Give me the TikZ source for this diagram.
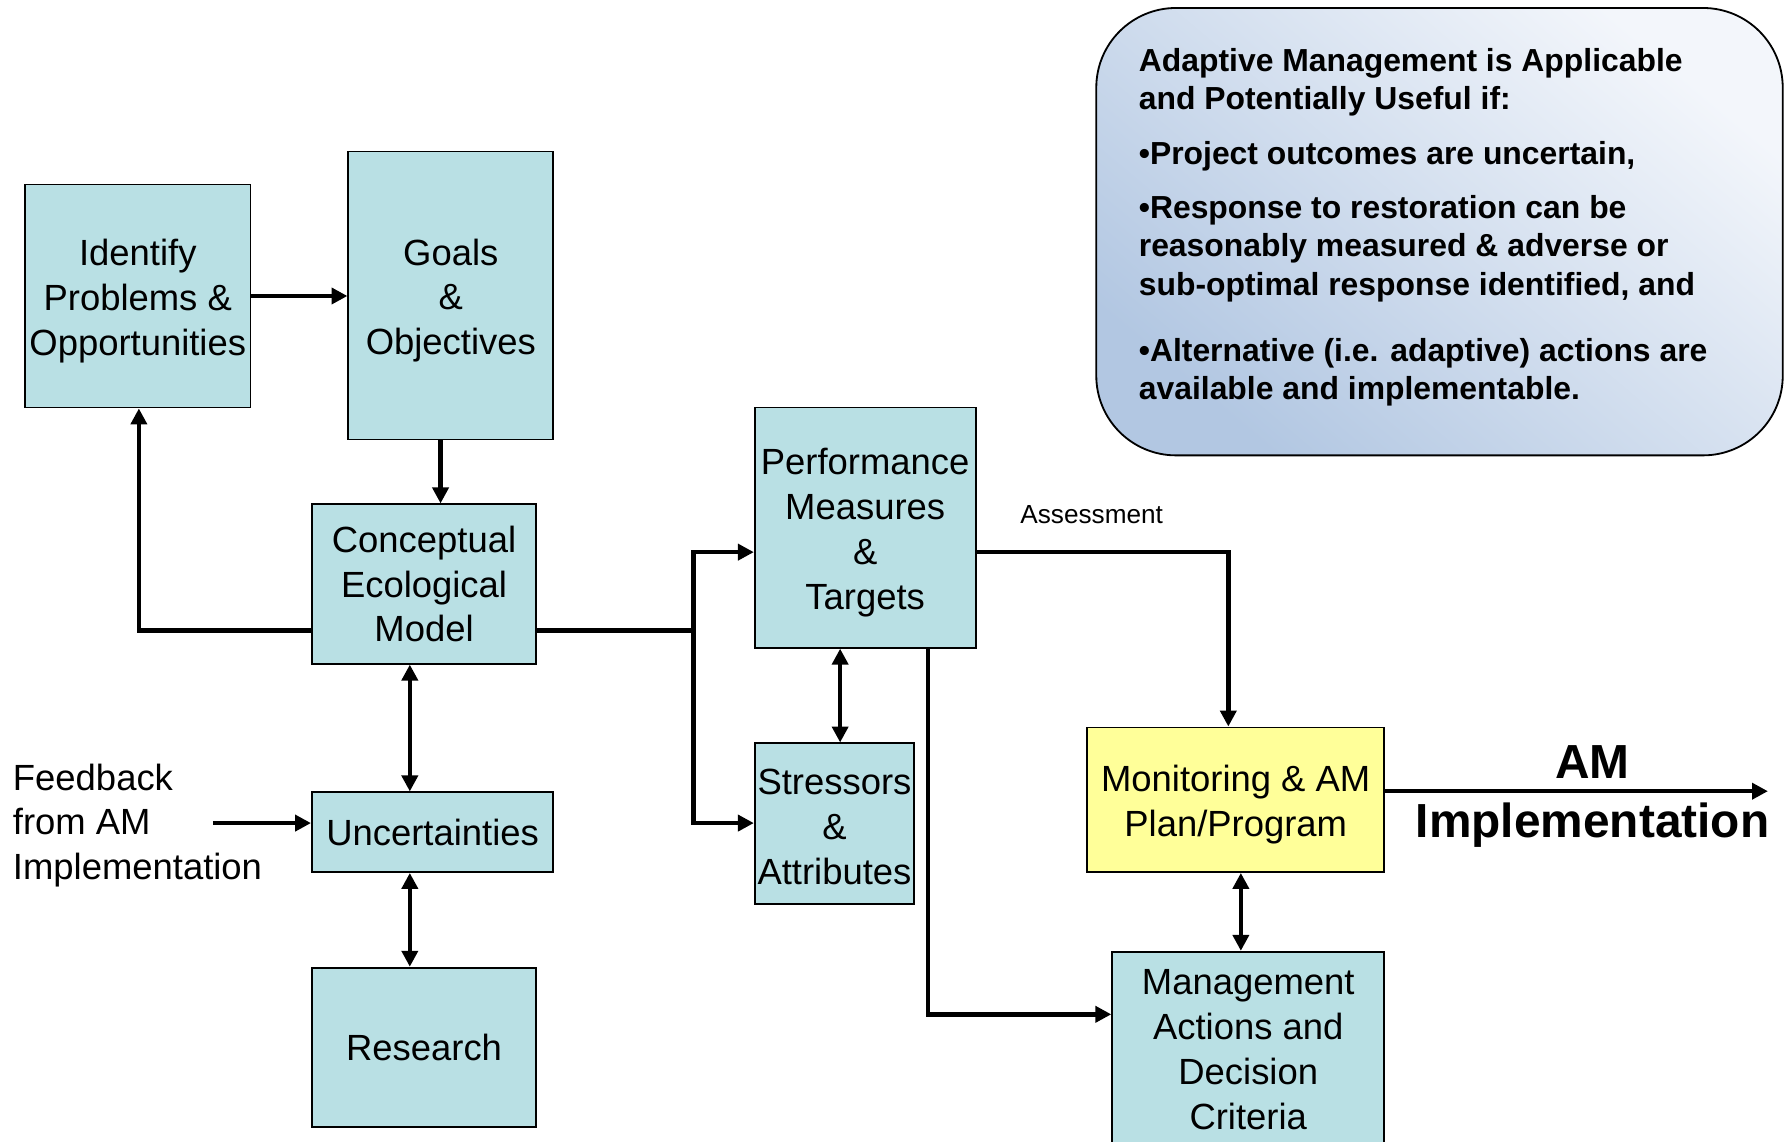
\documentclass[tikz,border=0pt]{standalone}
\usepackage{fontspec}
\setmainfont{Liberation Sans}
\usetikzlibrary{arrows.meta}
\definecolor{boxteal}{RGB}{185,224,228}
\definecolor{boxyellow}{RGB}{255,255,153}
\definecolor{condblue}{RGB}{178,199,226}
\definecolor{condlight}{RGB}{243,246,251}
\newcommand{\dn}[1]{\rule{0pt}{#1}}
\begin{document}
\begin{tikzpicture}[x=0.5pt,y=-0.5pt,
  box/.style={draw=black, line width=0.8pt, fill=boxteal, align=center, inner sep=0pt,
    font=\fontsize{16}{19.65}\selectfont},
  arr/.style={line width=2pt, -{Triangle[length=7pt,width=7pt]}},
  darr/.style={line width=2pt, {Triangle[length=7pt,width=7pt]}-{Triangle[length=7pt,width=7pt]}},
  ln/.style={line width=2pt},
  plain/.style={inner sep=0pt, font=\fontsize{16}{19.65}\selectfont}
]
\useasboundingbox (0,0) rectangle (1568,1003);
\clip (0,0) rectangle (1568,1003);

% conditions box
\path[draw=black, line width=0.8pt, rounded corners=35pt,
  top color=condlight, bottom color=condblue, shading angle=-40]
  (963,7) rectangle (1566,400);
\node[anchor=north west, inner sep=0pt, align=left,
  font=\fontsize{14}{16.75}\selectfont\bfseries] (cond) at (1000,42)
  {Adaptive Management is Applicable\\
   and Potentially Useful if:\\[7.25pt]
   •Project outcomes are uncertain,\\[7.25pt]
   •Response to restoration can be\\
   reasonably measured \& adverse or\\
   sub-optimal response identified, and\\[12.25pt]
   •Alternative (i.e. adaptive) actions are\\
   available and implementable.};

% boxes
\node[box, minimum width=99pt, minimum height=98pt] (idf) at (121,260)
  {\dn{16pt}Identify\\Problems \&\\Opportunities};
\node[box, minimum width=90pt, minimum height=126.5pt] (goals) at (396,259.5)
  {\dn{16pt}Goals\\\&\\Objectives};
\node[box, minimum width=98.5pt, minimum height=70pt] (cem) at (372.5,513)
  {Conceptual\\Ecological\\Model};
\node[box, minimum width=106pt, minimum height=35pt] (unc) at (380,731)
  {Uncertainties};
\node[box, minimum width=98.5pt, minimum height=70pt] (res) at (372.5,920)
  {Research};
\node[box, minimum width=97pt, minimum height=105.5pt] (pm) at (760,463.5)
  {\dn{16pt}Performance\\Measures\\\&\\Targets};
\node[box, minimum width=70pt, minimum height=70.5pt] (sa) at (733,723.5)
  {\dn{14pt}Stressors\\\&\\Attributes};
\node[box, fill=boxyellow, minimum width=130.5pt, minimum height=63.5pt] (mon) at (1085.5,702.5)
  {\dn{16pt}Monitoring \& AM\\Plan/Program};
\node[box, minimum width=119.5pt, minimum height=86pt] (mgmt) at (1096.5,922)
  {Management\\Actions and\\Decision\\Criteria};

% free labels
\node[plain, anchor=west, align=left] (fb) at (11,725)
  {Feedback\\from AM\\Implementation};
\node[inner sep=0pt, font=\fontsize{11.5}{13}\selectfont] (assess) at (959,452) {Assessment};
\node[inner sep=0pt, align=center, font=\fontsize{21}{26}\selectfont\bfseries] (amimpl) at (1399,694)
  {\dn{20pt}AM\\Implementation};

% helper coordinates
\coordinate (fbstart) at (187,723);
\coordinate (j1) at (609,554);
\coordinate (amend) at (1553,695);

% connectors
\draw[arr] (idf.east) -- (goals.west |- idf.east);
\draw[arr] (goals.south -| 387,0) -- (cem.north -| 387,0);
\draw[arr] (cem.west |- 0,554) -| (idf.south -| 122,0);
\draw[ln] (cem.east |- j1) -- (j1);
\draw[arr] (j1) |- (pm.west |- 0,485);
\draw[arr] (j1) |- (sa.west |- 0,723);
\draw[darr] (cem.south -| 360,0) -- (unc.north -| 360,0);
\draw[darr] (unc.south -| 360,0) -- (res.north -| 360,0);
\draw[arr] (fbstart) -- (unc.west |- fbstart);
\draw[darr] (pm.south -| 738,0) -- (sa.north -| 738,0);
\draw[arr] (pm.east |- 0,485) -| (mon.north -| 1079,0);
\draw[arr] (pm.south -| 815,0) |- (mgmt.west |- 0,891);
\draw[darr] (mon.south -| 1090,0) -- (mgmt.north -| 1090,0);
\draw[arr] (mon.east |- amend) -- (amend);
\end{tikzpicture}
\end{document}
